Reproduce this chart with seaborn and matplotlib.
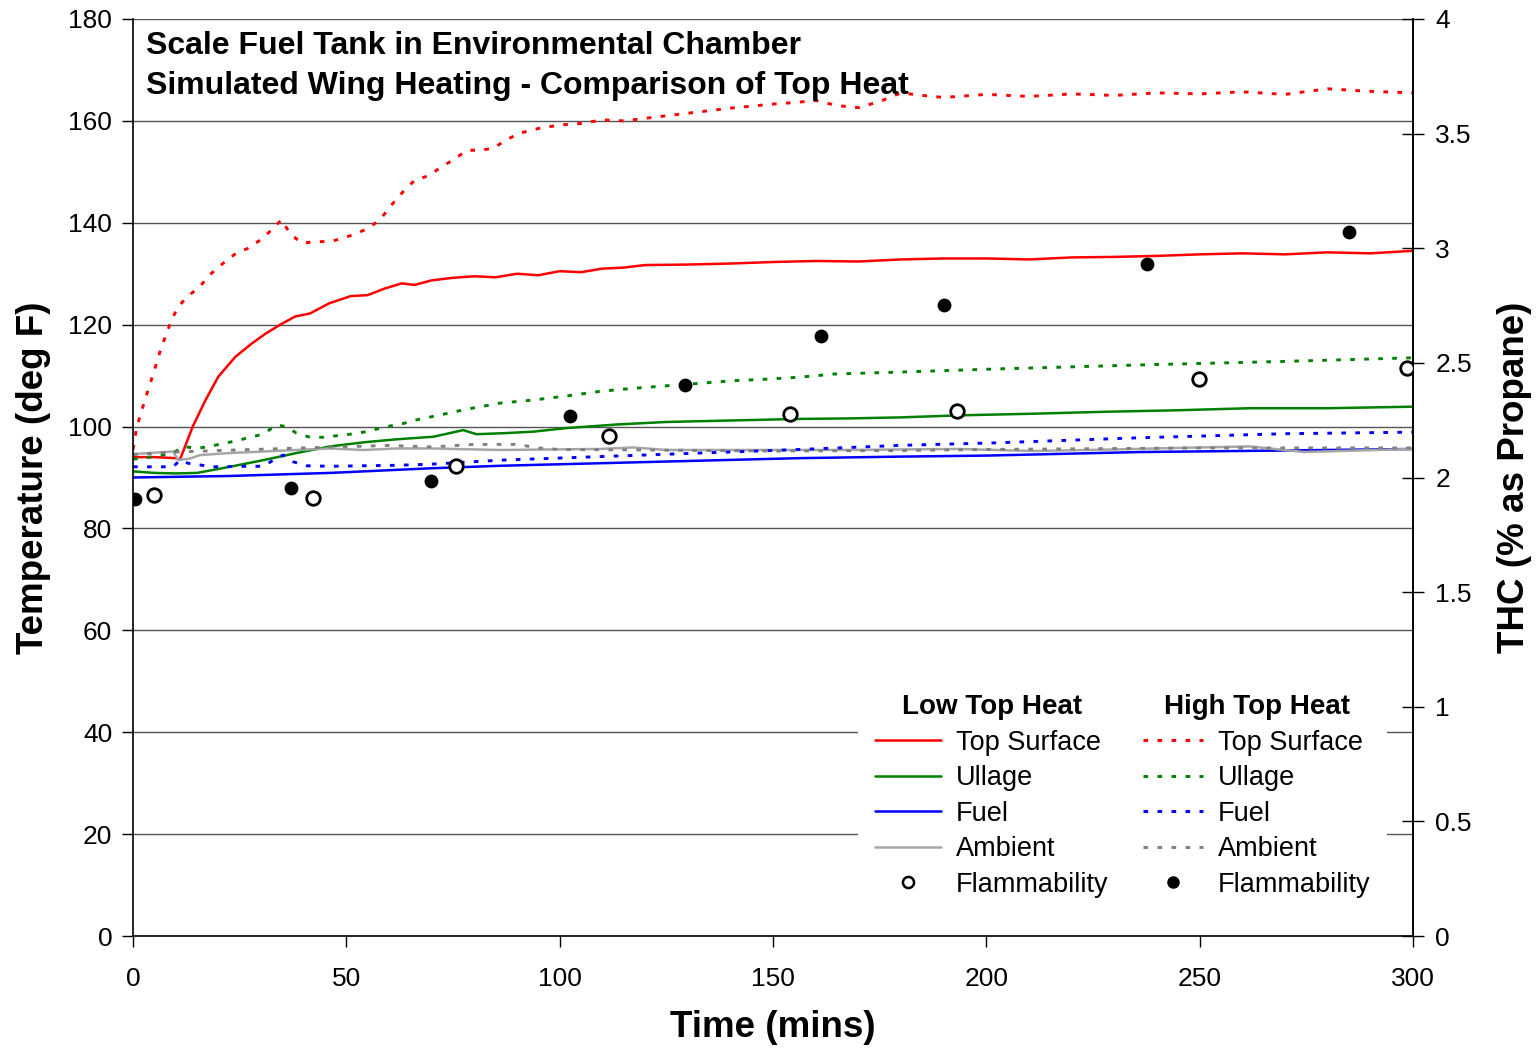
import seaborn as sns
import matplotlib
matplotlib.use("Agg")
from matplotlib import pyplot as plt
from matplotlib.lines import Line2D
from matplotlib.patches import Rectangle

# Temperature series (deg F), time in minutes
low_top_t = [0, 5, 10, 11, 14, 17, 20, 24, 28, 31, 34.5, 38, 41.5, 46, 51, 55, 59, 63, 66, 70, 75, 80, 85,
             90, 95, 100, 105, 110, 115, 120, 130, 140, 150, 160, 170, 180, 190, 200, 210, 220, 230, 240,
             250, 260, 270, 280, 290, 300]
low_top = [94.0, 94.0, 93.8, 93.5, 100, 105.2, 109.8, 113.7, 116.4, 118.2, 120, 121.6, 122.2, 124.2, 125.6,
           125.8, 127.1, 128.1, 127.8, 128.7, 129.2, 129.5, 129.3, 130, 129.7, 130.5, 130.3, 131, 131.2,
           131.7, 131.8, 132.0, 132.3, 132.5, 132.4, 132.8, 133.0, 133.0, 132.8, 133.2, 133.3, 133.5, 133.8,
           134.0, 133.8, 134.2, 134.0, 134.5]

high_top_t = [0, 0.9, 2.8, 4.8, 6.7, 7.9, 9.0, 10.6, 12.6, 15.7, 18, 21.2, 24.3, 27, 29.8, 32.9, 34.8, 36.8,
              39.5, 43, 46.2, 49.3, 52.4, 55.1, 57.9, 60.6, 63.3, 66.1, 69.2, 72, 75.5, 78.2, 81.7, 84.4,
              87.5, 90.7, 95, 100, 105, 110, 115, 120, 125, 130, 140, 150, 155, 160, 165, 170, 175, 180,
              185, 190, 200, 210, 220, 230, 240, 250, 260, 270, 280, 290, 300]
high_top = [95.5, 100, 105.2, 110.5, 115.7, 118.3, 120.9, 123.5, 125.4, 127.5, 129.8, 132.1, 134.1, 135,
            136.6, 138.9, 140.6, 137.9, 136, 136.3, 136.3, 137, 137.9, 138.9, 140.6, 143.5, 146.1, 148.4,
            149.2, 150.8, 152.6, 154.2, 154.3, 154.6, 156.3, 157.6, 158.5, 159.2, 159.5, 160.2, 160.0,
            160.5, 161.0, 161.5, 162.5, 163.3, 163.6, 164.0, 163.0, 162.6, 163.8, 165.5, 165.0, 164.6,
            165.2, 164.8, 165.3, 165.0, 165.5, 165.3, 165.7, 165.2, 166.3, 165.8, 165.5]

low_ull_t = [0, 5, 10, 15, 22.7, 30.5, 38.3, 46.2, 54, 61.8, 70.4, 77.4, 80.5, 87, 93.8, 101.6, 113.3, 125,
             140.6, 156.3, 168, 180, 193.6, 210, 227.7, 245, 261.8, 280, 300]
low_ull = [91.2, 90.9, 90.8, 90.9, 92.1, 93.4, 94.8, 96.1, 96.9, 97.5, 98.0, 99.3, 98.5, 98.7, 99.0, 99.7,
           100.4, 100.9, 101.2, 101.5, 101.6, 101.8, 102.2, 102.5, 102.9, 103.2, 103.6, 103.6, 103.9]

high_ull_t = [0, 4, 9.4, 11.8, 14.9, 18, 21.2, 24.3, 27.4, 30.5, 33.6, 36, 38.3, 41.5, 44.6, 47.7, 50.9, 54,
              57.1, 60.2, 63.3, 66.4, 70.4, 78.2, 86, 93.8, 101.6, 109.4, 117.2, 125, 132.9, 140.7, 148.4,
              156.3, 164.1, 179.8, 202.1, 236.2, 270.3, 300]
high_ull = [93.6, 94.0, 94.8, 96.1, 95.7, 96.1, 96.7, 97.2, 97.9, 98.5, 100.3, 100.0, 98.7, 97.9, 97.9, 98.2,
            98.5, 98.9, 99.5, 100.1, 100.6, 101.3, 102.0, 103.4, 104.6, 105.2, 106.0, 106.9, 107.5, 108.0,
            108.5, 109.0, 109.3, 109.7, 110.3, 110.7, 111.3, 112.1, 112.8, 113.5]

low_fuel_t = [0, 22.7, 46.2, 69.6, 86, 109.4, 132.9, 156.3, 179.8, 200, 236.2, 270, 300]
low_fuel = [90.0, 90.3, 90.9, 91.8, 92.3, 92.8, 93.3, 93.8, 94.1, 94.3, 95.0, 95.3, 95.6]

high_fuel_t = [0, 9.4, 11, 12.9, 18.7, 26.6, 30.5, 32.9, 35.2, 37.5, 40.7, 46.2, 54, 61.8, 69.6, 86, 109.4,
               132.9, 156.3, 179.8, 202, 236, 270.3, 300]
high_fuel = [92.1, 92.1, 93.4, 92.8, 92.1, 92.2, 92.2, 93.4, 94.4, 93.1, 92.3, 92.2, 92.3, 92.4, 92.6, 93.4,
             94.1, 94.8, 95.5, 96.3, 96.8, 97.8, 98.6, 98.9]

low_amb_t = [0, 9.4, 10.6, 13.3, 15.7, 22.7, 30.5, 38.3, 46.2, 54, 61.8, 69.6, 86, 109.4, 117.2, 125, 148.4,
             168, 179.8, 193.6, 211, 230, 244.7, 261.8, 274.5, 287, 300]
low_amb = [94.6, 95.1, 93.4, 93.7, 94.4, 94.8, 95.1, 95.4, 95.7, 95.4, 95.7, 95.7, 95.4, 95.6, 95.9, 95.4,
           95.4, 95.4, 95.5, 95.6, 95.2, 95.5, 95.8, 96.1, 95.0, 95.3, 95.6]

high_amb_t = [0, 10, 20, 40, 60, 70, 80, 90, 95, 100, 120, 150, 180, 200, 250, 300]
high_amb = [94.5, 95.0, 95.3, 95.8, 96.3, 96.0, 96.5, 96.5, 95.8, 95.5, 95.4, 95.2, 95.3, 95.5, 95.8, 95.8]

# Flammability samples, THC (% as propane) on the right axis
low_flam_t = [4.9, 42.2, 75.7, 111.6, 154, 193.1, 249.8, 298.6]
low_flam = [1.924, 1.911, 2.050, 2.181, 2.277, 2.290, 2.430, 2.478]
high_flam_t = [0.5, 37, 69.8, 102.4, 129.4, 161.2, 190.1, 237.7, 285]
high_flam = [1.906, 1.954, 1.985, 2.268, 2.404, 2.617, 2.752, 2.931, 3.071]

labels = ["Top Surface", "Ullage", "Fuel", "Ambient"]

sns.set_style("white")
plt.rcParams['font.family'] = ['Liberation Sans', 'DejaVu Sans']
plt.rcParams.update({"text.color": "black", "axes.labelcolor": "black",
                     "xtick.color": "black", "ytick.color": "black"})

DOTS = (0, (1.6, 3.2))
RED, GREEN, BLUE = "#ff0000", "#008000", "#0000ff"
GRAY_LO, GRAY_HI = "#a6a6a6", "#808080"
LW_SOLID, LW_DOT = 1.8, 2.1

fig, ax = plt.subplots(figsize=(15.37, 10.48), dpi=100)
fig.subplots_adjust(left=133/1537, right=1413/1537, bottom=1-936/1048, top=1-19/1048)
ax2 = ax.twinx()

series = [
    (low_top_t, low_top, RED, "-"), (low_ull_t, low_ull, GREEN, "-"),
    (low_fuel_t, low_fuel, BLUE, "-"), (low_amb_t, low_amb, GRAY_LO, "-"),
    (high_top_t, high_top, RED, DOTS), (high_ull_t, high_ull, GREEN, DOTS),
    (high_fuel_t, high_fuel, BLUE, DOTS), (high_amb_t, high_amb, GRAY_HI, DOTS),
]
for t, v, c, ls in series:
    sns.lineplot(x=t, y=v, ax=ax, color=c, linestyle=ls, lw=LW_SOLID if ls == "-" else LW_DOT)

sns.scatterplot(x=low_flam_t, y=low_flam, ax=ax2, marker="o", s=95, color="white",
                edgecolor="black", linewidth=2, zorder=5)
sns.scatterplot(x=high_flam_t, y=high_flam, ax=ax2, marker="o", s=80, color="black",
                edgecolor="black", linewidth=1, zorder=5)

ax.set_xlim(0, 300)
ax.set_ylim(0, 180)
ax.set_xticks(range(0, 301, 50))
ax.set_yticks(range(0, 181, 20))
ax2.set_ylim(0, 4)
ax2.set_yticks([0, 0.5, 1, 1.5, 2, 2.5, 3, 3.5, 4])
ax2.set_yticklabels(["0", "0.5", "1", "1.5", "2", "2.5", "3", "3.5", "4"])

ax.yaxis.grid(True, color="#555555", lw=1)
ax.set_axisbelow(True)
for a in (ax, ax2):
    a.spines["top"].set_visible(False)
    for s in a.spines.values():
        s.set_color("black")
        s.set_linewidth(1.2)
ax2.spines["left"].set_visible(False)
ax2.spines["bottom"].set_visible(False)

ax.tick_params(axis="y", direction="out", length=8, width=1, pad=7, labelsize=19, left=True)
ax.tick_params(axis="x", direction="out", length=8, width=1, pad=14, labelsize=19, bottom=True)
ax2.tick_params(axis="y", direction="inout", length=16, width=1, pad=8, labelsize=19, right=True)

ax.set_xlabel("Time (mins)", fontsize=26.5, fontweight="bold", labelpad=14)
ax.set_ylabel("Temperature (deg F)", fontsize=26.5, fontweight="bold", labelpad=12)
ax2.set_ylabel("THC (% as Propane)", fontsize=26.5, fontweight="bold", labelpad=18)

ax.text(0.01, 0.987, "Scale Fuel Tank in Environmental Chamber\nSimulated Wing Heating - Comparison of Top Heat",
        transform=ax.transAxes, ha="left", va="top", fontsize=23, fontweight="bold", linespacing=1.45)

# white panel behind both legends
ax2.add_patch(Rectangle((0.5664, 0.034), 0.4133, 0.235, transform=ax2.transAxes,
                        facecolor="white", edgecolor="none", zorder=15))

# two legends, one per heating case
low_handles = [Line2D([], [], color=c, lw=LW_SOLID) for c in (RED, GREEN, BLUE, GRAY_LO)]
low_handles.append(Line2D([], [], ls="none", marker="o", ms=8, mfc="white", mec="black", mew=1.8))
high_handles = [Line2D([], [], color=c, lw=LW_DOT, ls=DOTS) for c in (RED, GREEN, BLUE, GRAY_HI)]
high_handles.append(Line2D([], [], ls="none", marker="o", ms=8, mfc="black", mec="black"))

leg_kw = dict(fontsize=19.5, frameon=False, loc="upper left", labelspacing=0.35,
              handletextpad=0.55, borderpad=0.35, borderaxespad=0,
              title_fontproperties={"weight": "bold", "size": 20})
leg1 = ax2.legend(low_handles, labels + ["Flammability"], title="Low Top Heat",
                  bbox_to_anchor=(0.572, 0.274), handlelength=2.45, **leg_kw)
ax2.add_artist(leg1)
leg2 = ax2.legend(high_handles, labels + ["Flammability"], title="High Top Heat",
                  bbox_to_anchor=(0.782, 0.274), handlelength=2.2, **leg_kw)
leg1.set_zorder(20)
leg2.set_zorder(20)

fig.savefig("out.png", dpi=100)
